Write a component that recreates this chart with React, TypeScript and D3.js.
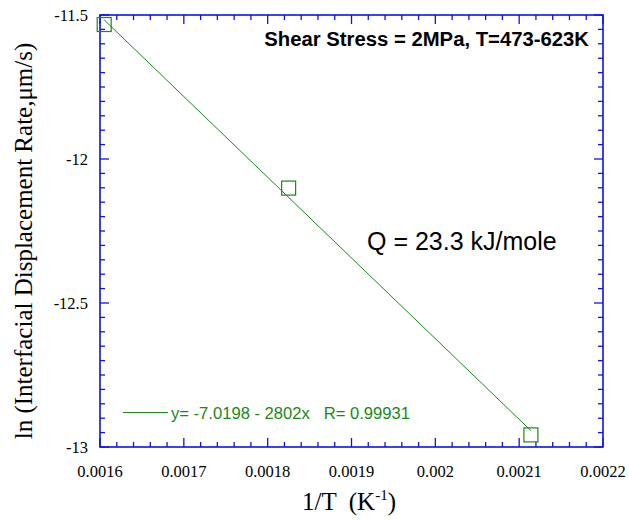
import React from "react";
import * as d3 from "d3";

const invT = [0.001605, 0.001825, 0.002114];
const lnRate = [-11.533, -12.101, -12.958];
const fitIntercept = -7.0198;
const fitSlope = -2802;
const xMajor = [0.0016, 0.0017, 0.0018, 0.0019, 0.002, 0.0021, 0.0022];
const xMajorLabels = ["0.0016", "0.0017", "0.0018", "0.0019", "0.002", "0.0021", "0.0022"];
const yMajor = [-11.5, -12, -12.5, -13];
const yMajorLabels = ["-11.5", "-12", "-12.5", "-13"];

const W = 629, H = 521;
const L = 100, R = 603, T = 15, B = 447;
const AX = "#1010f0";
const GR = "#178a17";
const SERIF = "Liberation Serif, 'Times New Roman', serif";
const SANS = "Liberation Sans, Arial, sans-serif";

export default function App() {
  const x = d3.scaleLinear().domain([0.0016, 0.0022]).range([L, R]);
  const y = d3.scaleLinear().domain([-11.5, -13]).range([T, B]);
  const xMinor = x.ticks(30);
  const yMinor = y.ticks(30);
  const isMajX = (v: number) => xMajor.some((m) => Math.abs(m - v) < 1e-9);
  const isMajY = (v: number) => yMajor.some((m) => Math.abs(m - v) < 1e-9);
  const x0 = invT[0], x1 = invT[invT.length - 1];
  const line = d3.line<number>().x((d) => x(d)).y((d) => y(fitIntercept + fitSlope * d));
  const s = 14;
  return (
    <svg width={W} height={H} style={{ position: "absolute", left: 0, top: 0, background: "#fff" }}>
      {xMinor.map((v, i) => {
        const len = isMajX(v) ? 9 : 5;
        return (
          <g key={"xt" + i} stroke={AX} strokeWidth={1.3}>
            <line x1={x(v)} x2={x(v)} y1={B} y2={B - len} />
            <line x1={x(v)} x2={x(v)} y1={T} y2={T + len} />
          </g>
        );
      })}
      {yMinor.map((v, i) => {
        const len = isMajY(v) ? 9 : 5;
        return (
          <g key={"yt" + i} stroke={AX} strokeWidth={1.3}>
            <line x1={L} x2={L + len} y1={y(v)} y2={y(v)} />
            <line x1={R} x2={R - len} y1={y(v)} y2={y(v)} />
          </g>
        );
      })}
      <rect x={L} y={T} width={R - L} height={B - T} fill="none" stroke={AX} strokeWidth={1.6} />
      {xMajor.map((v, i) => (
        <text key={"xl" + i} x={x(v)} y={477} textAnchor="middle" fontFamily={SERIF} fontSize={16.5} fill="#000">
          {xMajorLabels[i]}
        </text>
      ))}
      {yMajor.map((v, i) => (
        <text key={"yl" + i} x={88} y={y(v) + 5.5} textAnchor="end" fontFamily={SERIF} fontSize={16.5} fill="#000">
          {yMajorLabels[i]}
        </text>
      ))}
      <text x={302} y={510} xmlSpace="preserve" fontFamily={SERIF} fontSize={25} fill="#000">
        {"1/T  (K"}<tspan dy={-10} fontSize={15}>-1</tspan><tspan dy={10}>)</tspan>
      </text>
      <text transform={`translate(32,241) rotate(-90)`} textAnchor="middle" fontFamily={SERIF} fontSize={25} fill="#000">
        ln (Interfacial Displacement Rate,μm/s)
      </text>
      <path d={line([x0, x1]) || ""} fill="none" stroke={GR} strokeWidth={1} />
      {invT.map((v, i) => (
        <rect key={"m" + i} x={x(v) - s / 2} y={y(lnRate[i]) - s / 2} width={s} height={s} fill="none" stroke={GR} strokeWidth={1.2} />
      ))}
      <line x1={123} x2={168} y1={412.5} y2={412.5} stroke={GR} strokeWidth={1} />
      <text x={171} y={419} xmlSpace="preserve" fontFamily={SANS} fontSize={16.6} fill={GR}>
        {"y= -7.0198 - 2802x   R= 0.99931"}
      </text>
      <text x={589} y={46} textAnchor="end" fontFamily={SANS} fontWeight="bold" fontSize={20.3} fill="#000">
        Shear Stress = 2MPa, T=473-623K
      </text>
      <text x={367} y={250} fontFamily={SANS} fontSize={25} fill="#000">
        Q = 23.3 kJ/mole
      </text>
    </svg>
  );
}
